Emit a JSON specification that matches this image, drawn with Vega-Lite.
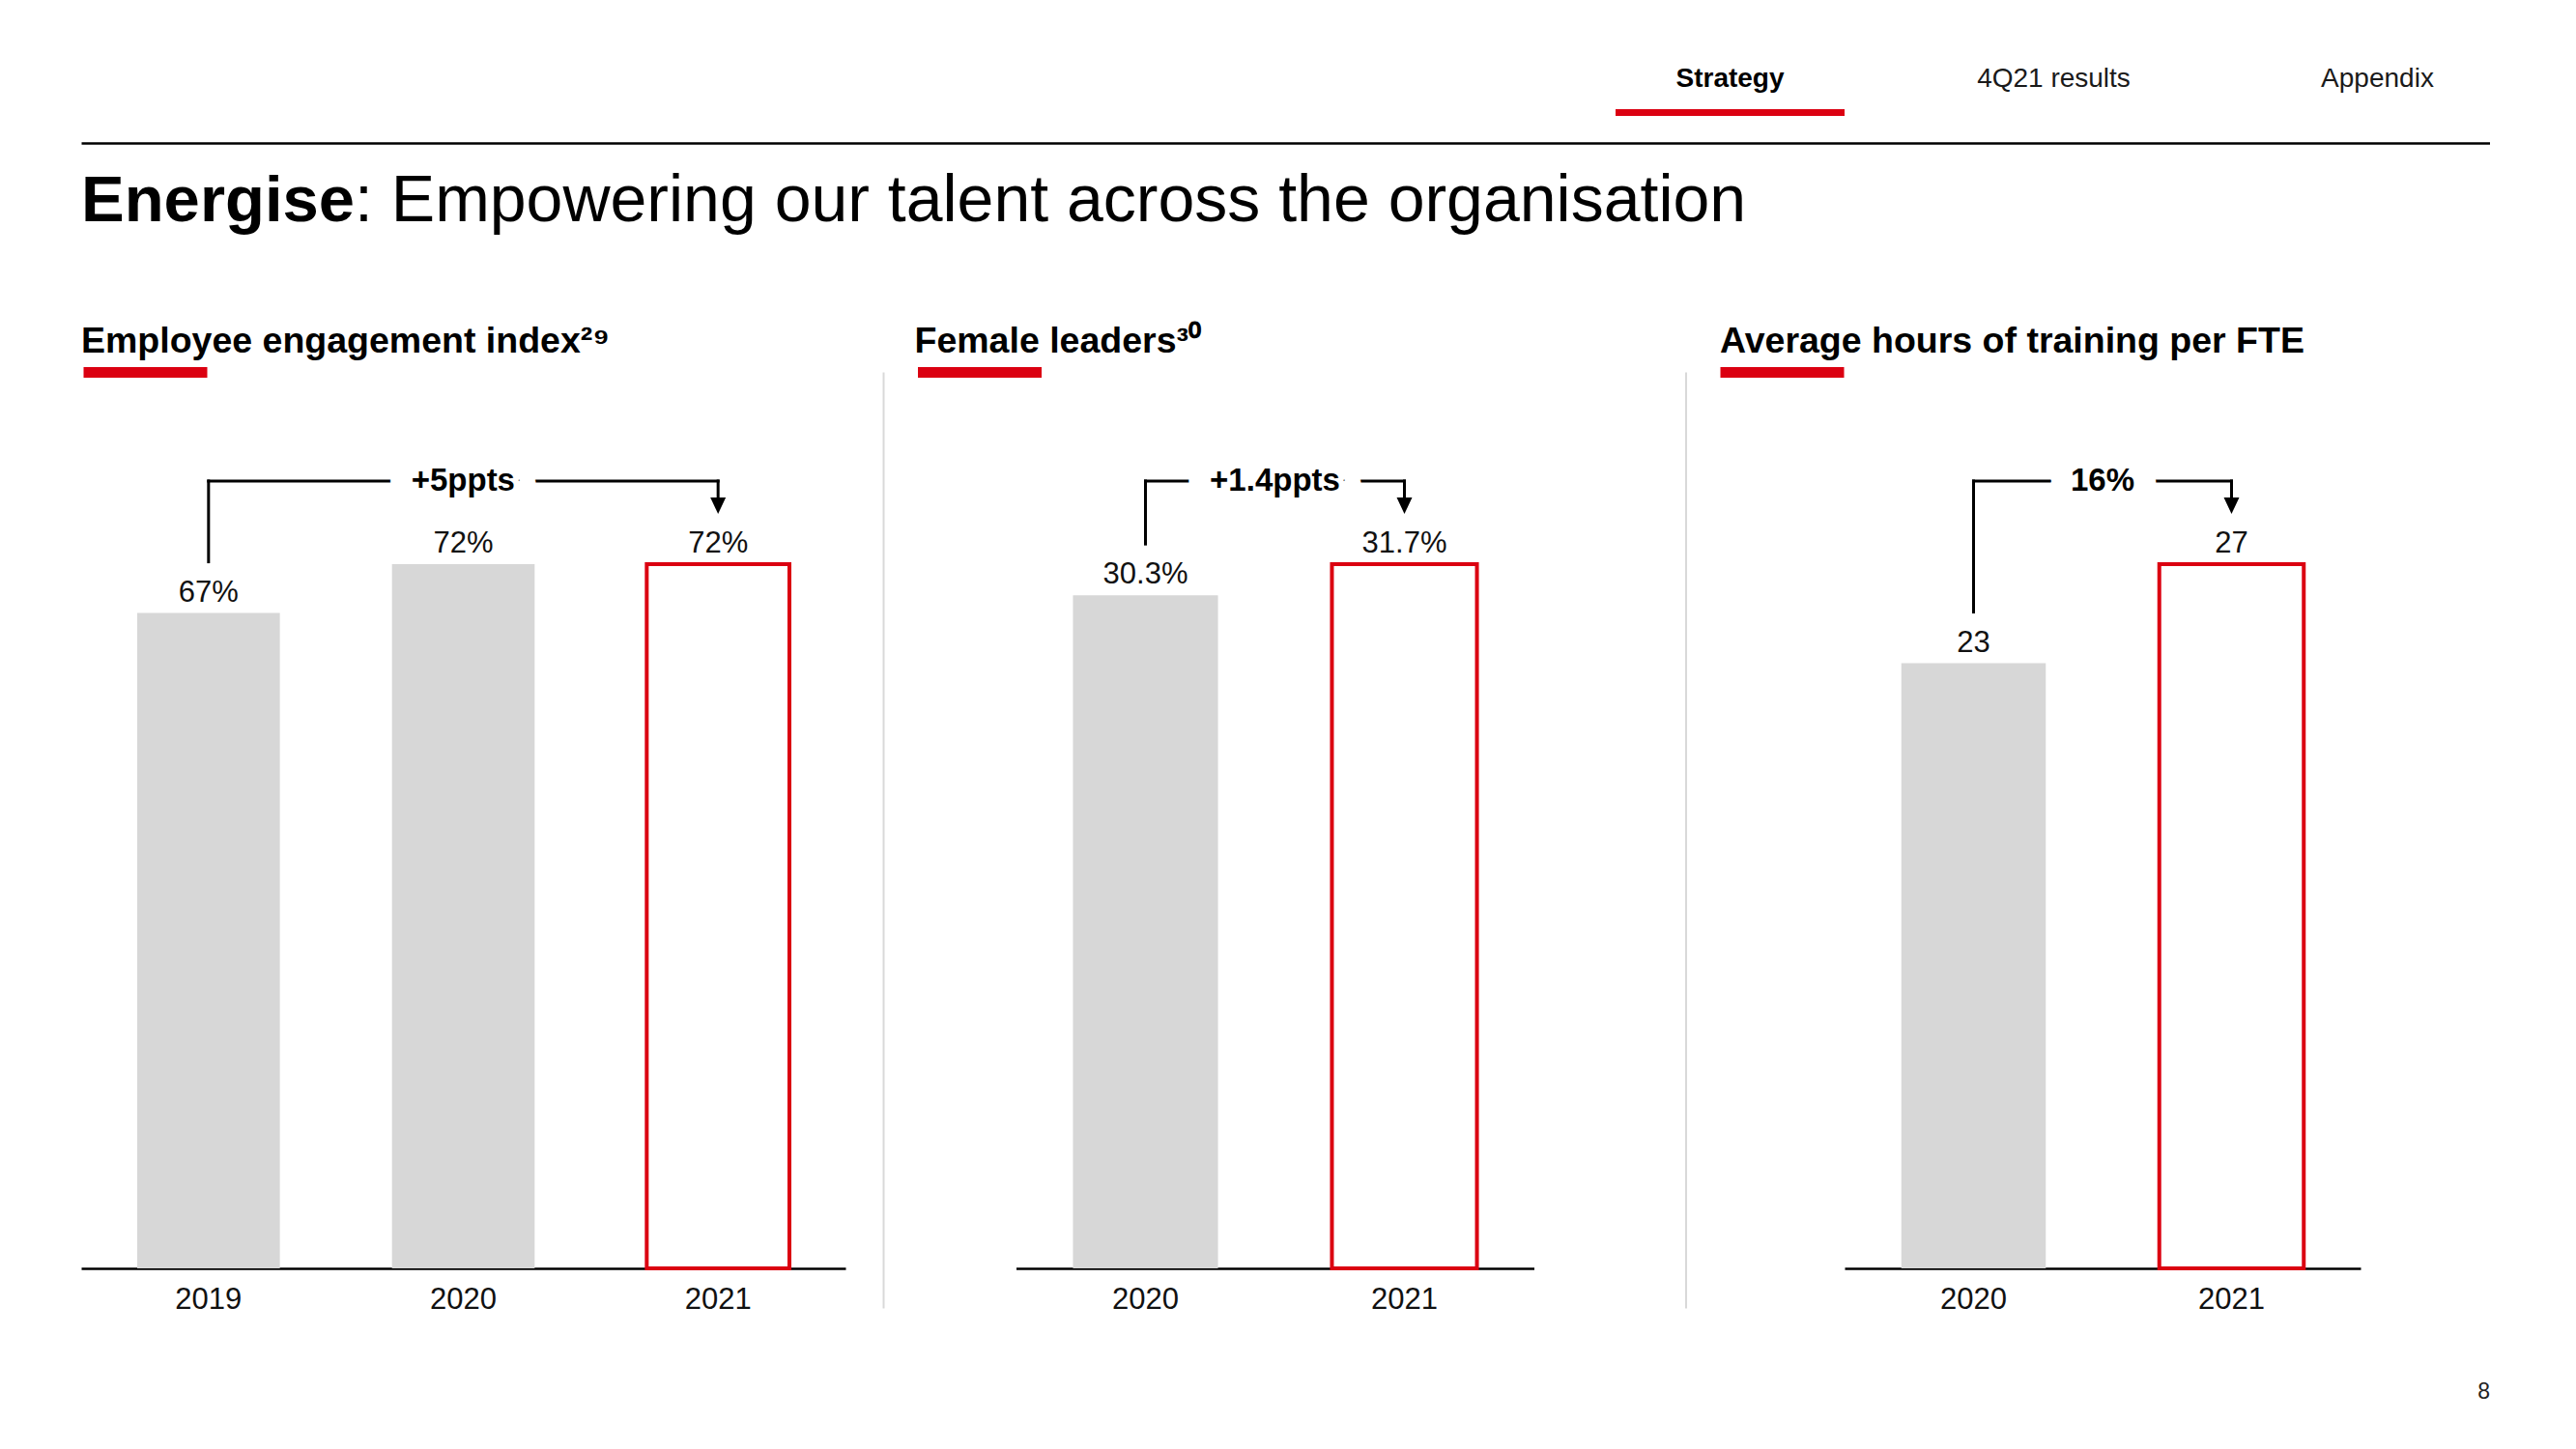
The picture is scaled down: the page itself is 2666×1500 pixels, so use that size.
{
  "$schema": "https://vega.github.io/schema/vega-lite/v6.json",
  "background": "white",
  "padding": {"left": 80, "top": 68, "right": 0, "bottom": 0},
  "config": {
    "font": "Liberation Sans",
    "view": {"stroke": null},
    "axis": {"grid": false},
    "title": {"font": "Liberation Sans", "color": "#000000"}
  },
  "datasets": {
    "nav": [
      {"section": "Strategy", "current": true},
      {"section": "4Q21 results", "current": false},
      {"section": "Appendix", "current": false}
    ],
    "engagement": [
      {"year": "2019", "value": 67, "label": "67%", "current": false},
      {"year": "2020", "value": 72, "label": "72%", "current": false},
      {"year": "2021", "value": 72, "label": "72%", "current": true}
    ],
    "engagement_change": [
      {"from": "2019", "to": "2021", "fromValue": 67, "toValue": 72, "change": "+5ppts"}
    ],
    "female": [
      {"year": "2020", "value": 30.3, "label": "30.3%", "current": false},
      {"year": "2021", "value": 31.7, "label": "31.7%", "current": true}
    ],
    "female_change": [
      {"from": "2020", "to": "2021", "fromValue": 30.3, "toValue": 31.7, "change": "+1.4ppts"}
    ],
    "training": [
      {"year": "2020", "value": 23.2, "label": "23", "current": false},
      {"year": "2021", "value": 27, "label": "27", "current": true}
    ],
    "training_change": [
      {"from": "2020", "to": "2021", "fromValue": 23.2, "toValue": 27, "change": "16%"}
    ]
  },
  "title": {"text": "8", "orient": "bottom", "anchor": "end", "fontSize": 23, "fontWeight": "normal", "color": "#222222", "offset": 70},
  "spacing": -67,
  "vconcat": [
    {
      "width": 2493,
      "height": 7,
      "data": {"name": "nav"},
      "title": {"text": "Energise", "orient": "bottom", "anchor": "start", "frame": "group", "fontSize": 67, "fontWeight": "bold", "color": "#000000", "offset": 28},
      "resolve": {"scale": {"x": "independent"}, "axis": {"x": "independent"}},
      "layer": [
        {
          "encoding": {
            "x": {"field": "section", "type": "nominal", "title": null,
              "scale": {"domain": ["Strategy", "4Q21 results", "Appendix"], "range": [1588, 2495], "paddingInner": 0.2925, "paddingOuter": 0},
              "axis": null}
          },
          "layer": [
            {"transform": [{"filter": "datum.current"}], "mark": {"type": "bar", "color": "#db0011"}},
            {"transform": [{"filter": "datum.current"}], "mark": {"type": "text", "baseline": "middle", "dy": -34.5, "fontSize": 28, "fontWeight": "bold", "color": "#000000"}, "encoding": {"text": {"field": "section"}}},
            {"transform": [{"filter": "!datum.current"}], "mark": {"type": "text", "baseline": "middle", "dy": -34.5, "fontSize": 28, "fontWeight": "normal", "color": "#1a1a1a"}, "encoding": {"text": {"field": "section"}}}
          ]
        },
        {
          "mark": {"type": "bar", "opacity": 0},
          "encoding": {
            "x": {"field": "section", "type": "nominal", "title": null,
              "axis": {"orient": "bottom", "offset": 28, "domain": true, "domainColor": "#000000", "domainWidth": 2.5, "ticks": false, "labels": false, "title": null}}
          }
        }
      ]
    },
    {
      "title": {"text": ": Empowering our talent across the organisation", "anchor": "start", "frame": "group", "dx": 283, "fontSize": 68, "fontWeight": "normal", "color": "#000000", "offset": 92},
      "spacing": 29.5,
      "hconcat": [
        {
          "width": 791, "height": 969,
          "title": {"text": "Employee engagement index²⁹", "anchor": "start", "frame": "group", "dx": 0, "fontSize": 37.5, "fontWeight": "bold", "color": "#000000", "offset": 7},
          "resolve": {"axis": {"y": "independent"}},
          "layer": [
            {
              "data": {"name": "engagement"},
              "mark": {"type": "bar", "strokeWidth": 4},
              "encoding": {
                "x": {"field": "year", "type": "ordinal", "title": null, "scale": {"paddingInner": 0.44, "paddingOuter": 0.22},
                  "axis": {"orient": "bottom", "offset": -41, "domainColor": "#000000", "domainWidth": 2.5, "ticks": false, "tickSize": 0, "labelFontSize": 31, "labelPadding": 17, "labelColor": "#111111", "labelAngle": 0, "title": null}},
                "y": {"field": "value", "type": "quantitative", "title": null, "scale": {"domain": [-4.05, 91.65], "nice": false, "zero": false},
                  "axis": {"orient": "right", "offset": 39, "domain": true, "domainColor": "#d9d9d9", "domainWidth": 2, "ticks": false, "labels": false, "grid": false, "title": null}},
                "y2": {"datum": 0},
                "fill": {"condition": {"test": "datum.current", "value": "#ffffff"}, "value": "#d7d7d7"},
                "stroke": {"condition": {"test": "datum.current", "value": "#db0011"}, "value": "transparent"}
              }
            },
            {
              "data": {"name": "engagement"},
              "mark": {"type": "text", "baseline": "alphabetic", "dy": -12, "fontSize": 31, "color": "#111111"},
              "encoding": {
                "x": {"field": "year", "type": "ordinal", "title": null},
                "y": {"field": "value", "type": "quantitative", "title": null,
                  "axis": {"orient": "left", "offset": -130, "values": [91.65], "domain": false, "labels": false, "ticks": true, "tickSize": 128, "tickWidth": 11, "tickColor": "#db0011", "grid": false, "title": null}},
                "text": {"field": "label"}
              }
            },
            {
              "data": {"name": "engagement_change"},
              "mark": {"type": "rule", "strokeWidth": 3, "strokeCap": "square", "color": "#000000", "yOffset": -53, "y2Offset": -86},
              "encoding": {"x": {"field": "from", "type": "ordinal", "title": null}, "y": {"field": "fromValue", "type": "quantitative", "axis": null}, "y2": {"field": "toValue"}}
            },
            {
              "data": {"name": "engagement_change"},
              "mark": {"type": "rule", "strokeWidth": 3, "strokeCap": "square", "color": "#000000", "yOffset": -86},
              "encoding": {"x": {"field": "from", "type": "ordinal", "title": null}, "x2": {"field": "to"}, "y": {"field": "toValue", "type": "quantitative", "axis": null}}
            },
            {
              "data": {"name": "engagement_change"},
              "mark": {"type": "rule", "strokeWidth": 3, "strokeCap": "square", "color": "#000000", "yOffset": -86, "y2Offset": -69},
              "encoding": {"x": {"field": "to", "type": "ordinal", "title": null}, "y": {"field": "toValue", "type": "quantitative", "axis": null}, "y2": {"field": "toValue"}}
            },
            {
              "data": {"name": "engagement_change"},
              "mark": {"type": "point", "shape": "M-0.94,-1L0.94,-1L0,1Z", "size": 289, "filled": true, "opacity": 1, "color": "#000000", "yOffset": -60.5},
              "encoding": {"x": {"field": "to", "type": "ordinal", "title": null}, "y": {"field": "toValue", "type": "quantitative", "axis": null}}
            },
            {
              "data": {"name": "engagement_change"},
              "mark": {"type": "text", "fontSize": 33, "fontWeight": "bold", "dx": 263.5, "yOffset": -86, "baseline": "middle", "fill": "#ffffff", "stroke": "#ffffff", "strokeWidth": 46, "strokeJoin": "round"},
              "encoding": {"x": {"field": "from", "type": "ordinal", "title": null}, "y": {"field": "toValue", "type": "quantitative", "axis": null}, "text": {"field": "change"}}
            },
            {
              "data": {"name": "engagement_change"},
              "mark": {"type": "text", "fontSize": 33, "fontWeight": "bold", "dx": 263.5, "yOffset": -86, "baseline": "middle", "fill": "#000000"},
              "encoding": {"x": {"field": "from", "type": "ordinal", "title": null}, "y": {"field": "toValue", "type": "quantitative", "axis": null}, "text": {"field": "change"}}
            }
          ]
        },
        {
          "width": 536, "height": 969,
          "title": {"text": "Female leaders³⁰", "anchor": "start", "frame": "group", "dx": -105, "fontSize": 37.5, "fontWeight": "bold", "color": "#000000", "offset": 7},
          "resolve": {"axis": {"y": "independent"}},
          "layer": [
            {
              "data": {"name": "female"},
              "mark": {"type": "bar", "strokeWidth": 4},
              "encoding": {
                "x": {"field": "year", "type": "ordinal", "title": null, "scale": {"paddingInner": 0.44, "paddingOuter": 0.22},
                  "axis": {"orient": "bottom", "offset": -41, "domainColor": "#000000", "domainWidth": 2.5, "ticks": false, "tickSize": 0, "labelFontSize": 31, "labelPadding": 17, "labelColor": "#111111", "labelAngle": 0, "title": null}},
                "y": {"field": "value", "type": "quantitative", "title": null, "scale": {"domain": [-1.78, 40.35], "nice": false, "zero": false},
                  "axis": {"orient": "right", "offset": 157, "domain": true, "domainColor": "#d9d9d9", "domainWidth": 2, "ticks": false, "labels": false, "grid": false, "title": null}},
                "y2": {"datum": 0},
                "fill": {"condition": {"test": "datum.current", "value": "#ffffff"}, "value": "#d7d7d7"},
                "stroke": {"condition": {"test": "datum.current", "value": "#db0011"}, "value": "transparent"}
              }
            },
            {
              "data": {"name": "female"},
              "mark": {"type": "text", "baseline": "alphabetic", "dy": -12, "fontSize": 31, "color": "#111111"},
              "encoding": {
                "x": {"field": "year", "type": "ordinal", "title": null},
                "y": {"field": "value", "type": "quantitative", "title": null,
                  "axis": {"orient": "left", "offset": -26, "values": [40.35], "domain": false, "labels": false, "ticks": true, "tickSize": 128, "tickWidth": 11, "tickColor": "#db0011", "grid": false, "title": null}},
                "text": {"field": "label"}
              }
            },
            {
              "data": {"name": "female_change"},
              "mark": {"type": "rule", "strokeWidth": 3, "strokeCap": "square", "color": "#000000", "yOffset": -53, "y2Offset": -86},
              "encoding": {"x": {"field": "from", "type": "ordinal", "title": null}, "y": {"field": "fromValue", "type": "quantitative", "axis": null}, "y2": {"field": "toValue"}}
            },
            {
              "data": {"name": "female_change"},
              "mark": {"type": "rule", "strokeWidth": 3, "strokeCap": "square", "color": "#000000", "yOffset": -86},
              "encoding": {"x": {"field": "from", "type": "ordinal", "title": null}, "x2": {"field": "to"}, "y": {"field": "toValue", "type": "quantitative", "axis": null}}
            },
            {
              "data": {"name": "female_change"},
              "mark": {"type": "rule", "strokeWidth": 3, "strokeCap": "square", "color": "#000000", "yOffset": -86, "y2Offset": -69},
              "encoding": {"x": {"field": "to", "type": "ordinal", "title": null}, "y": {"field": "toValue", "type": "quantitative", "axis": null}, "y2": {"field": "toValue"}}
            },
            {
              "data": {"name": "female_change"},
              "mark": {"type": "point", "shape": "M-0.94,-1L0.94,-1L0,1Z", "size": 289, "filled": true, "opacity": 1, "color": "#000000", "yOffset": -60.5},
              "encoding": {"x": {"field": "to", "type": "ordinal", "title": null}, "y": {"field": "toValue", "type": "quantitative", "axis": null}}
            },
            {
              "data": {"name": "female_change"},
              "mark": {"type": "text", "fontSize": 33, "fontWeight": "bold", "dx": 134, "yOffset": -86, "baseline": "middle", "fill": "#ffffff", "stroke": "#ffffff", "strokeWidth": 46, "strokeJoin": "round"},
              "encoding": {"x": {"field": "from", "type": "ordinal", "title": null}, "y": {"field": "toValue", "type": "quantitative", "axis": null}, "text": {"field": "change"}}
            },
            {
              "data": {"name": "female_change"},
              "mark": {"type": "text", "fontSize": 33, "fontWeight": "bold", "dx": 134, "yOffset": -86, "baseline": "middle", "fill": "#000000"},
              "encoding": {"x": {"field": "from", "type": "ordinal", "title": null}, "y": {"field": "toValue", "type": "quantitative", "axis": null}, "text": {"field": "change"}}
            }
          ]
        },
        {
          "width": 534, "height": 969,
          "title": {"text": "Average hours of training per FTE", "anchor": "start", "frame": "group", "dx": -129, "fontSize": 37.5, "fontWeight": "bold", "color": "#000000", "offset": 7},
          "resolve": {"axis": {"y": "independent"}},
          "layer": [
            {
              "data": {"name": "training"},
              "mark": {"type": "bar", "strokeWidth": 4},
              "encoding": {
                "x": {"field": "year", "type": "ordinal", "title": null, "scale": {"paddingInner": 0.44, "paddingOuter": 0.22},
                  "axis": {"orient": "bottom", "offset": -41, "domainColor": "#000000", "domainWidth": 2.5, "ticks": false, "tickSize": 0, "labelFontSize": 31, "labelPadding": 17, "labelColor": "#111111", "labelAngle": 0, "title": null}},
                "y": {"field": "value", "type": "quantitative", "title": null, "scale": {"domain": [-1.52, 34.37], "nice": false, "zero": false}, "axis": null},
                "y2": {"datum": 0},
                "fill": {"condition": {"test": "datum.current", "value": "#ffffff"}, "value": "#d7d7d7"},
                "stroke": {"condition": {"test": "datum.current", "value": "#db0011"}, "value": "transparent"}
              }
            },
            {
              "data": {"name": "training"},
              "mark": {"type": "text", "baseline": "alphabetic", "dy": -12, "fontSize": 31, "color": "#111111"},
              "encoding": {
                "x": {"field": "year", "type": "ordinal", "title": null},
                "y": {"field": "value", "type": "quantitative", "title": null,
                  "axis": {"orient": "left", "offset": 1, "values": [34.37], "domain": false, "labels": false, "ticks": true, "tickSize": 128, "tickWidth": 11, "tickColor": "#db0011", "grid": false, "title": null}},
                "text": {"field": "label"}
              }
            },
            {
              "data": {"name": "training_change"},
              "mark": {"type": "rule", "strokeWidth": 3, "strokeCap": "square", "color": "#000000", "yOffset": -53, "y2Offset": -86},
              "encoding": {"x": {"field": "from", "type": "ordinal", "title": null}, "y": {"field": "fromValue", "type": "quantitative", "axis": null}, "y2": {"field": "toValue"}}
            },
            {
              "data": {"name": "training_change"},
              "mark": {"type": "rule", "strokeWidth": 3, "strokeCap": "square", "color": "#000000", "yOffset": -86},
              "encoding": {"x": {"field": "from", "type": "ordinal", "title": null}, "x2": {"field": "to"}, "y": {"field": "toValue", "type": "quantitative", "axis": null}}
            },
            {
              "data": {"name": "training_change"},
              "mark": {"type": "rule", "strokeWidth": 3, "strokeCap": "square", "color": "#000000", "yOffset": -86, "y2Offset": -69},
              "encoding": {"x": {"field": "to", "type": "ordinal", "title": null}, "y": {"field": "toValue", "type": "quantitative", "axis": null}, "y2": {"field": "toValue"}}
            },
            {
              "data": {"name": "training_change"},
              "mark": {"type": "point", "shape": "M-0.94,-1L0.94,-1L0,1Z", "size": 289, "filled": true, "opacity": 1, "color": "#000000", "yOffset": -60.5},
              "encoding": {"x": {"field": "to", "type": "ordinal", "title": null}, "y": {"field": "toValue", "type": "quantitative", "axis": null}}
            },
            {
              "data": {"name": "training_change"},
              "mark": {"type": "text", "fontSize": 33, "fontWeight": "bold", "dx": 133.5, "yOffset": -86, "baseline": "middle", "fill": "#ffffff", "stroke": "#ffffff", "strokeWidth": 46, "strokeJoin": "round"},
              "encoding": {"x": {"field": "from", "type": "ordinal", "title": null}, "y": {"field": "toValue", "type": "quantitative", "axis": null}, "text": {"field": "change"}}
            },
            {
              "data": {"name": "training_change"},
              "mark": {"type": "text", "fontSize": 33, "fontWeight": "bold", "dx": 133.5, "yOffset": -86, "baseline": "middle", "fill": "#000000"},
              "encoding": {"x": {"field": "from", "type": "ordinal", "title": null}, "y": {"field": "toValue", "type": "quantitative", "axis": null}, "text": {"field": "change"}}
            }
          ]
        }
      ]
    }
  ]
}
